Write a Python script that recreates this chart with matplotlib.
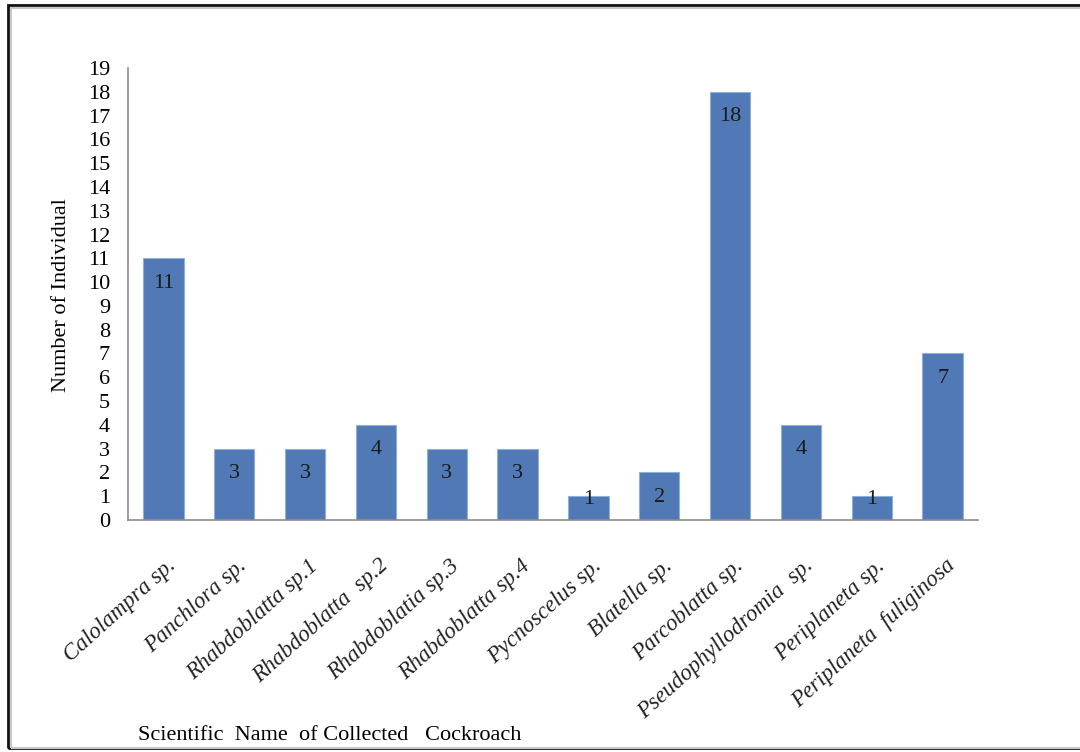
import matplotlib.pyplot as plt
from matplotlib.patches import Rectangle
from matplotlib.transforms import ScaledTranslation

species = ['Calolampra sp.', 'Panchlora sp.', 'Rhabdoblatta sp.1',
           'Rhabdoblatta  sp.2', 'Rhabdoblatia sp.3', 'Rhabdoblatta sp.4',
           'Pycnoscelus sp.', 'Blatella sp.', 'Parcoblatta sp.',
           'Pseudophyllodromia  sp.', 'Periplaneta sp.',
           'Periplaneta  fuliginosa']
counts = [11, 3, 3, 4, 3, 3, 1, 2, 18, 4, 1, 7]
yticks = list(range(0, 20))

plt.rcParams['font.family'] = ['Liberation Serif', 'DejaVu Serif']

fig = plt.figure(figsize=(10.8, 7.52), dpi=100)
ax = fig.add_axes([128 / 1080, 1 - 520 / 752, 850 / 1080, 452 / 752])

x = list(range(len(species)))
bars = ax.bar(x, counts, width=0.57, color='#5079b5',
              edgecolor='#8fb0d8', linewidth=0.8, zorder=2)

# labels sit just inside the bar end, short bars keep them off the axis
for xi, c in zip(x, counts):
    ax.text(xi, max(c - 1.05, 0.88), str(c), ha='center', va='center',
            fontsize=16, color='#1a1a1a', zorder=3)

ax.set_xlim(-0.5, len(species) - 0.5)
ax.set_ylim(0, 19)
ax.set_yticks(yticks)
ax.set_yticklabels([str(t) for t in yticks], fontsize=16)
ax.tick_params(axis='y', length=0, pad=13)
ax.tick_params(axis='x', length=0, pad=16)
ax.set_xticks(x)
ax.set_xticklabels(species, rotation=42, ha='right', rotation_mode='anchor',
                   fontsize=16.5, style='italic', color='#222222')
shift = ScaledTranslation(0.03, -0.13, fig.dpi_scale_trans)
for lab in ax.get_xticklabels():
    lab.set_transform(lab.get_transform() + shift)

for side in ['top', 'right']:
    ax.spines[side].set_visible(False)
for side in ['left', 'bottom']:
    ax.spines[side].set_color('#8c8c8c')
    ax.spines[side].set_linewidth(1.2)

fig.text(62 / 1080, 1 - 295 / 752, 'Number of Individual', rotation=90,
         ha='center', va='center', fontsize=16)
fig.text(138 / 1080, 1 - 736 / 752, 'Scientific  Name  of Collected   Cockroach',
         ha='left', va='center', fontsize=16)

# frame around the chart
fig.add_artist(Rectangle((8 / 1080, 4 / 752), 1.0, 1 - 9 / 752,
                         transform=fig.transFigure, fill=False,
                         edgecolor='#111111', linewidth=2))
fig.add_artist(Rectangle((11 / 1080, 4 / 752), 1.0, 1 - 12 / 752,
                         transform=fig.transFigure, fill=False,
                         edgecolor='#c8c8c8', linewidth=1.5))

fig.savefig('out.png', dpi=100)
